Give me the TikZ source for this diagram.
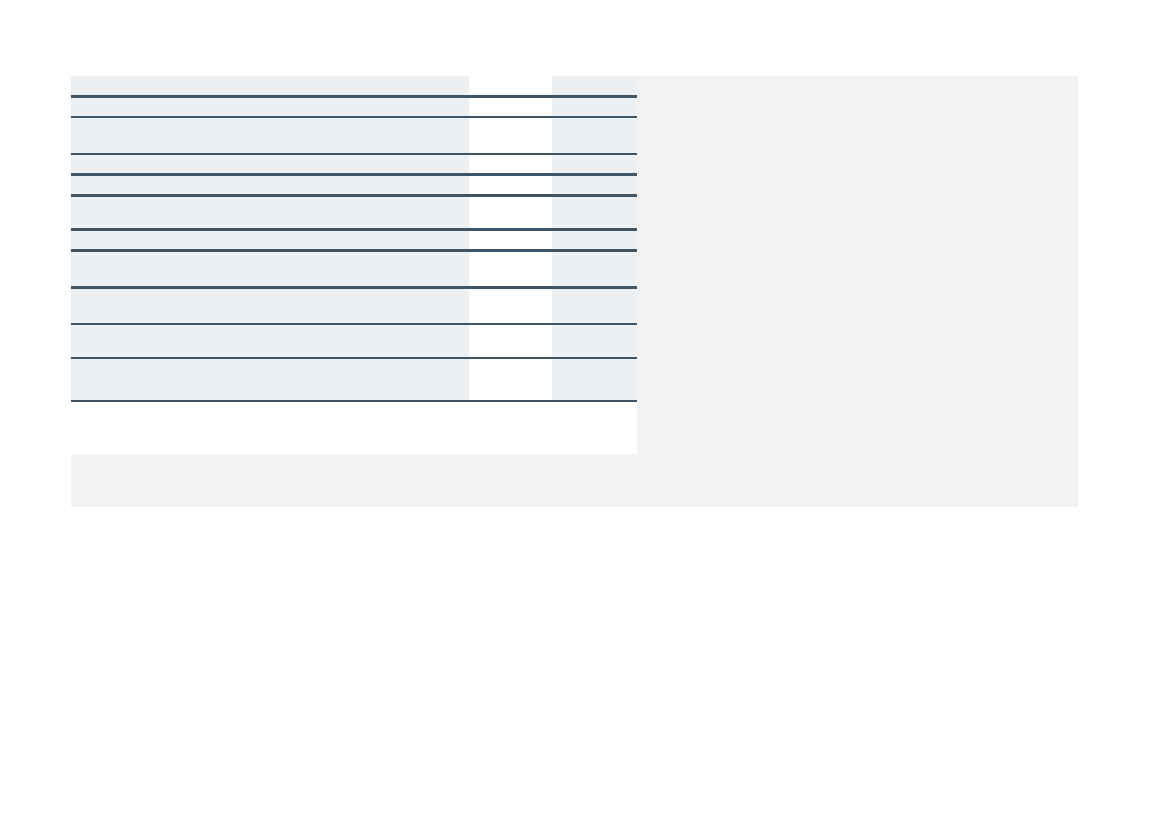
\documentclass[tikz,border=0pt]{standalone}
\usepackage{tikz}
\usetikzlibrary{positioning}

\definecolor{panelgray}{HTML}{F2F2F2}
\definecolor{colblue}{HTML}{EDF0F3}
\definecolor{rulecol}{HTML}{3E5567}

\tikzset{
  rowrule/.style={draw=rulecol, line width=2.6pt},
  colfill/.style={fill=colblue, draw=none},
}

\begin{document}
\begin{tikzpicture}[x=1pt, y=-1pt]
    \useasboundingbox (0, 0) rectangle (1169, 827);
    \fill [white] (0, 0) rectangle (1169, 827);

    % grey panel behind everything
    \fill [panelgray] (71, 76) rectangle (1078, 507);
    \draw [draw=black!4, line width=0.6pt] (637, 421.3) -- (1078, 421.3);

    % table area
    \fill [white] (71, 76) rectangle (637, 454);
    \fill [colfill] (71, 76) rectangle (469, 401);
    \fill [colfill] (552, 76) rectangle (637, 401);

    \foreach \y in {96.3, 117, 154, 174.7, 195.7, 229.7, 250.3, 287.3, 324, 358, 401}
      \draw [rowrule] (70.5, \y) -- (637, \y);
  \end{tikzpicture}
\end{document}
